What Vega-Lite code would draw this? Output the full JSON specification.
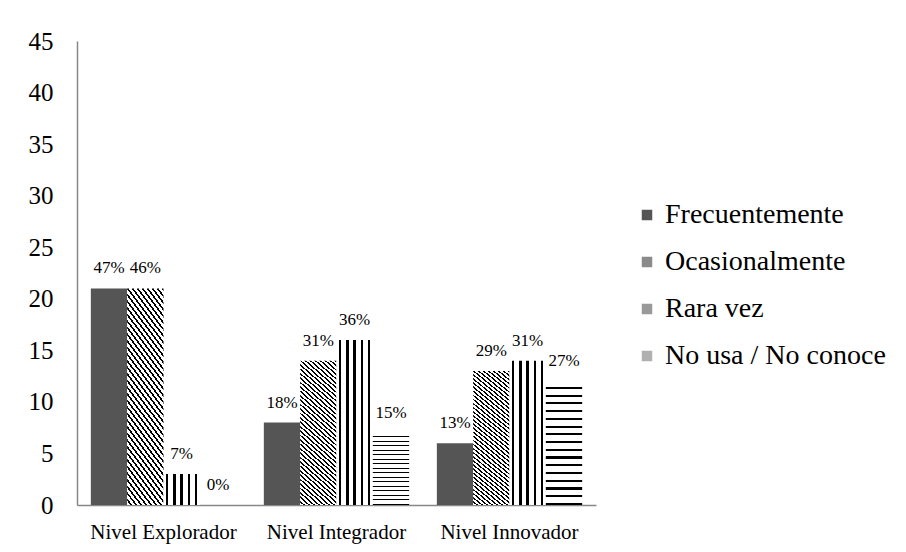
{
  "$schema": "https://vega.github.io/schema/vega-lite/v6.json",
  "autosize": {"type": "none"},
  "padding": {"left": 77, "top": 41, "right": 310, "bottom": 47},
  "width": 519,
  "height": 464,
  "config": {"font": "Liberation Serif", "view": {"stroke": null}, "background": "white", "legend": {"labelFont": "Liberation Serif"}},
  "data": {
    "values": [
      {"nivel": "Nivel Explorador", "serie": "Frecuentemente", "valor": 21, "pct": "47%"},
      {"nivel": "Nivel Explorador", "serie": "Ocasionalmente", "valor": 21, "pct": "46%"},
      {"nivel": "Nivel Explorador", "serie": "Rara vez", "valor": 3, "pct": "7%"},
      {"nivel": "Nivel Explorador", "serie": "No usa / No conoce", "valor": 0, "pct": "0%"},
      {"nivel": "Nivel Integrador", "serie": "Frecuentemente", "valor": 8, "pct": "18%"},
      {"nivel": "Nivel Integrador", "serie": "Ocasionalmente", "valor": 14, "pct": "31%"},
      {"nivel": "Nivel Integrador", "serie": "Rara vez", "valor": 16, "pct": "36%"},
      {"nivel": "Nivel Integrador", "serie": "No usa / No conoce", "valor": 7, "pct": "15%"},
      {"nivel": "Nivel Innovador", "serie": "Frecuentemente", "valor": 6, "pct": "13%"},
      {"nivel": "Nivel Innovador", "serie": "Ocasionalmente", "valor": 13, "pct": "29%"},
      {"nivel": "Nivel Innovador", "serie": "Rara vez", "valor": 14, "pct": "31%"},
      {"nivel": "Nivel Innovador", "serie": "No usa / No conoce", "valor": 12, "pct": "27%"}
    ]
  },
  "encoding": {
    "x": {
      "field": "nivel", "type": "nominal",
      "sort": ["Nivel Explorador", "Nivel Integrador", "Nivel Innovador"],
      "scale": {"paddingInner": 0.16, "paddingOuter": 0.08},
      "axis": {"title": null, "labelAngle": 0, "labelFont": "Liberation Serif", "labelFontSize": 21, "labelColor": "black", "domainColor": "#888888", "domainWidth": 1.5, "ticks": false, "labelPadding": 16}
    },
    "xOffset": {
      "field": "serie", "type": "nominal",
      "sort": ["Frecuentemente", "Ocasionalmente", "Rara vez", "No usa / No conoce"]
    },
    "y": {
      "field": "valor", "type": "quantitative",
      "scale": {"domain": [0, 45]},
      "axis": {"title": null, "values": [0, 5, 10, 15, 20, 25, 30, 35, 40, 45], "grid": false, "ticks": false, "labelFont": "Liberation Serif", "labelFontSize": 25, "labelColor": "black", "labelPadding": 24, "domainColor": "#888888", "domainWidth": 1.5}
    }
  },
  "layer": [
    {
      "mark": {"type": "bar", "strokeWidth": 0},
      "encoding": {
        "fill": {
          "field": "serie", "type": "nominal",
          "scale": {
            "domain": ["Frecuentemente", "Ocasionalmente", "Rara vez", "No usa / No conoce"],
            "range": ["#555555", "#8a8a8a", "#999999", "#b0b0b0"]
          },
          "condition": [
            {"test": "datum.serie === 'Ocasionalmente'", "value": {"gradient": "linear", "x1": 0, "y1": 1, "x2": 0.2588, "y2": -0.1647, "stops": [
                {"offset": 0, "color": "#fff"}, {"offset": 0.015, "color": "#fff"}, {"offset": 0.015, "color": "#000"}, {"offset": 0.025, "color": "#000"},
                {"offset": 0.025, "color": "#fff"}, {"offset": 0.04, "color": "#fff"}, {"offset": 0.04, "color": "#000"}, {"offset": 0.05, "color": "#000"},
                {"offset": 0.05, "color": "#fff"}, {"offset": 0.065, "color": "#fff"}, {"offset": 0.065, "color": "#000"}, {"offset": 0.075, "color": "#000"},
                {"offset": 0.075, "color": "#fff"}, {"offset": 0.09, "color": "#fff"}, {"offset": 0.09, "color": "#000"}, {"offset": 0.1, "color": "#000"},
                {"offset": 0.1, "color": "#fff"}, {"offset": 0.115, "color": "#fff"}, {"offset": 0.115, "color": "#000"}, {"offset": 0.125, "color": "#000"},
                {"offset": 0.125, "color": "#fff"}, {"offset": 0.14, "color": "#fff"}, {"offset": 0.14, "color": "#000"}, {"offset": 0.15, "color": "#000"},
                {"offset": 0.15, "color": "#fff"}, {"offset": 0.165, "color": "#fff"}, {"offset": 0.165, "color": "#000"}, {"offset": 0.175, "color": "#000"},
                {"offset": 0.175, "color": "#fff"}, {"offset": 0.19, "color": "#fff"}, {"offset": 0.19, "color": "#000"}, {"offset": 0.2, "color": "#000"},
                {"offset": 0.2, "color": "#fff"}, {"offset": 0.215, "color": "#fff"}, {"offset": 0.215, "color": "#000"}, {"offset": 0.225, "color": "#000"},
                {"offset": 0.225, "color": "#fff"}, {"offset": 0.24, "color": "#fff"}, {"offset": 0.24, "color": "#000"}, {"offset": 0.25, "color": "#000"},
                {"offset": 0.25, "color": "#fff"}, {"offset": 0.265, "color": "#fff"}, {"offset": 0.265, "color": "#000"}, {"offset": 0.275, "color": "#000"},
                {"offset": 0.275, "color": "#fff"}, {"offset": 0.29, "color": "#fff"}, {"offset": 0.29, "color": "#000"}, {"offset": 0.3, "color": "#000"},
                {"offset": 0.3, "color": "#fff"}, {"offset": 0.315, "color": "#fff"}, {"offset": 0.315, "color": "#000"}, {"offset": 0.325, "color": "#000"},
                {"offset": 0.325, "color": "#fff"}, {"offset": 0.34, "color": "#fff"}, {"offset": 0.34, "color": "#000"}, {"offset": 0.35, "color": "#000"},
                {"offset": 0.35, "color": "#fff"}, {"offset": 0.365, "color": "#fff"}, {"offset": 0.365, "color": "#000"}, {"offset": 0.375, "color": "#000"},
                {"offset": 0.375, "color": "#fff"}, {"offset": 0.39, "color": "#fff"}, {"offset": 0.39, "color": "#000"}, {"offset": 0.4, "color": "#000"},
                {"offset": 0.4, "color": "#fff"}, {"offset": 0.415, "color": "#fff"}, {"offset": 0.415, "color": "#000"}, {"offset": 0.425, "color": "#000"},
                {"offset": 0.425, "color": "#fff"}, {"offset": 0.44, "color": "#fff"}, {"offset": 0.44, "color": "#000"}, {"offset": 0.45, "color": "#000"},
                {"offset": 0.45, "color": "#fff"}, {"offset": 0.465, "color": "#fff"}, {"offset": 0.465, "color": "#000"}, {"offset": 0.475, "color": "#000"},
                {"offset": 0.475, "color": "#fff"}, {"offset": 0.49, "color": "#fff"}, {"offset": 0.49, "color": "#000"}, {"offset": 0.5, "color": "#000"},
                {"offset": 0.5, "color": "#fff"}, {"offset": 0.515, "color": "#fff"}, {"offset": 0.515, "color": "#000"}, {"offset": 0.525, "color": "#000"},
                {"offset": 0.525, "color": "#fff"}, {"offset": 0.54, "color": "#fff"}, {"offset": 0.54, "color": "#000"}, {"offset": 0.55, "color": "#000"},
                {"offset": 0.55, "color": "#fff"}, {"offset": 0.565, "color": "#fff"}, {"offset": 0.565, "color": "#000"}, {"offset": 0.575, "color": "#000"},
                {"offset": 0.575, "color": "#fff"}, {"offset": 0.59, "color": "#fff"}, {"offset": 0.59, "color": "#000"}, {"offset": 0.6, "color": "#000"},
                {"offset": 0.6, "color": "#fff"}, {"offset": 0.615, "color": "#fff"}, {"offset": 0.615, "color": "#000"}, {"offset": 0.625, "color": "#000"},
                {"offset": 0.625, "color": "#fff"}, {"offset": 0.64, "color": "#fff"}, {"offset": 0.64, "color": "#000"}, {"offset": 0.65, "color": "#000"},
                {"offset": 0.65, "color": "#fff"}, {"offset": 0.665, "color": "#fff"}, {"offset": 0.665, "color": "#000"}, {"offset": 0.675, "color": "#000"},
                {"offset": 0.675, "color": "#fff"}, {"offset": 0.69, "color": "#fff"}, {"offset": 0.69, "color": "#000"}, {"offset": 0.7, "color": "#000"},
                {"offset": 0.7, "color": "#fff"}, {"offset": 0.715, "color": "#fff"}, {"offset": 0.715, "color": "#000"}, {"offset": 0.725, "color": "#000"},
                {"offset": 0.725, "color": "#fff"}, {"offset": 0.74, "color": "#fff"}, {"offset": 0.74, "color": "#000"}, {"offset": 0.75, "color": "#000"},
                {"offset": 0.75, "color": "#fff"}, {"offset": 0.765, "color": "#fff"}, {"offset": 0.765, "color": "#000"}, {"offset": 0.775, "color": "#000"},
                {"offset": 0.775, "color": "#fff"}, {"offset": 0.79, "color": "#fff"}, {"offset": 0.79, "color": "#000"}, {"offset": 0.8, "color": "#000"},
                {"offset": 0.8, "color": "#fff"}, {"offset": 0.815, "color": "#fff"}, {"offset": 0.815, "color": "#000"}, {"offset": 0.825, "color": "#000"},
                {"offset": 0.825, "color": "#fff"}, {"offset": 0.84, "color": "#fff"}, {"offset": 0.84, "color": "#000"}, {"offset": 0.85, "color": "#000"},
                {"offset": 0.85, "color": "#fff"}, {"offset": 0.865, "color": "#fff"}, {"offset": 0.865, "color": "#000"}, {"offset": 0.875, "color": "#000"},
                {"offset": 0.875, "color": "#fff"}, {"offset": 0.89, "color": "#fff"}, {"offset": 0.89, "color": "#000"}, {"offset": 0.9, "color": "#000"},
                {"offset": 0.9, "color": "#fff"}, {"offset": 0.915, "color": "#fff"}, {"offset": 0.915, "color": "#000"}, {"offset": 0.925, "color": "#000"},
                {"offset": 0.925, "color": "#fff"}, {"offset": 0.94, "color": "#fff"}, {"offset": 0.94, "color": "#000"}, {"offset": 0.95, "color": "#000"},
                {"offset": 0.95, "color": "#fff"}, {"offset": 0.965, "color": "#fff"}, {"offset": 0.965, "color": "#000"}, {"offset": 0.975, "color": "#000"},
                {"offset": 0.975, "color": "#fff"}, {"offset": 0.99, "color": "#fff"}, {"offset": 0.99, "color": "#000"}, {"offset": 1, "color": "#000"}
              ]}},
            {"test": "datum.serie === 'Rara vez'", "value": {"gradient": "linear", "x1": 0, "y1": 0, "x2": 1, "y2": 0, "stops": [
                {"offset": 0, "color": "#fff"}, {"offset": 0.065, "color": "#fff"}, {"offset": 0.065, "color": "#000"}, {"offset": 0.135, "color": "#000"},
                {"offset": 0.135, "color": "#fff"}, {"offset": 0.265, "color": "#fff"}, {"offset": 0.265, "color": "#000"}, {"offset": 0.335, "color": "#000"},
                {"offset": 0.335, "color": "#fff"}, {"offset": 0.465, "color": "#fff"}, {"offset": 0.465, "color": "#000"}, {"offset": 0.535, "color": "#000"},
                {"offset": 0.535, "color": "#fff"}, {"offset": 0.665, "color": "#fff"}, {"offset": 0.665, "color": "#000"}, {"offset": 0.735, "color": "#000"},
                {"offset": 0.735, "color": "#fff"}, {"offset": 0.865, "color": "#fff"}, {"offset": 0.865, "color": "#000"}, {"offset": 0.935, "color": "#000"},
                {"offset": 0.935, "color": "#fff"}, {"offset": 1, "color": "#fff"}
              ]}},
            {"test": "datum.serie === 'No usa / No conoce'", "value": {"gradient": "linear", "x1": 0, "y1": 0, "x2": 0, "y2": 1, "stops": [
                {"offset": 0, "color": "#fff"}, {"offset": 0.045, "color": "#fff"}, {"offset": 0.045, "color": "#000"}, {"offset": 0.0625, "color": "#000"},
                {"offset": 0.0625, "color": "#fff"}, {"offset": 0.1075, "color": "#fff"}, {"offset": 0.1075, "color": "#000"}, {"offset": 0.125, "color": "#000"},
                {"offset": 0.125, "color": "#fff"}, {"offset": 0.17, "color": "#fff"}, {"offset": 0.17, "color": "#000"}, {"offset": 0.1875, "color": "#000"},
                {"offset": 0.1875, "color": "#fff"}, {"offset": 0.2325, "color": "#fff"}, {"offset": 0.2325, "color": "#000"}, {"offset": 0.25, "color": "#000"},
                {"offset": 0.25, "color": "#fff"}, {"offset": 0.295, "color": "#fff"}, {"offset": 0.295, "color": "#000"}, {"offset": 0.3125, "color": "#000"},
                {"offset": 0.3125, "color": "#fff"}, {"offset": 0.3575, "color": "#fff"}, {"offset": 0.3575, "color": "#000"}, {"offset": 0.375, "color": "#000"},
                {"offset": 0.375, "color": "#fff"}, {"offset": 0.42, "color": "#fff"}, {"offset": 0.42, "color": "#000"}, {"offset": 0.4375, "color": "#000"},
                {"offset": 0.4375, "color": "#fff"}, {"offset": 0.4825, "color": "#fff"}, {"offset": 0.4825, "color": "#000"}, {"offset": 0.5, "color": "#000"},
                {"offset": 0.5, "color": "#fff"}, {"offset": 0.545, "color": "#fff"}, {"offset": 0.545, "color": "#000"}, {"offset": 0.5625, "color": "#000"},
                {"offset": 0.5625, "color": "#fff"}, {"offset": 0.6075, "color": "#fff"}, {"offset": 0.6075, "color": "#000"}, {"offset": 0.625, "color": "#000"},
                {"offset": 0.625, "color": "#fff"}, {"offset": 0.67, "color": "#fff"}, {"offset": 0.67, "color": "#000"}, {"offset": 0.6875, "color": "#000"},
                {"offset": 0.6875, "color": "#fff"}, {"offset": 0.7325, "color": "#fff"}, {"offset": 0.7325, "color": "#000"}, {"offset": 0.75, "color": "#000"},
                {"offset": 0.75, "color": "#fff"}, {"offset": 0.795, "color": "#fff"}, {"offset": 0.795, "color": "#000"}, {"offset": 0.8125, "color": "#000"},
                {"offset": 0.8125, "color": "#fff"}, {"offset": 0.8575, "color": "#fff"}, {"offset": 0.8575, "color": "#000"}, {"offset": 0.875, "color": "#000"},
                {"offset": 0.875, "color": "#fff"}, {"offset": 0.92, "color": "#fff"}, {"offset": 0.92, "color": "#000"}, {"offset": 0.9375, "color": "#000"},
                {"offset": 0.9375, "color": "#fff"}, {"offset": 0.9825, "color": "#fff"}, {"offset": 0.9825, "color": "#000"}, {"offset": 1, "color": "#000"}
              ]}}
          ],
          "legend": {
            "title": null, "orient": "none", "legendX": 556, "legendY": 160,
            "symbolType": "square", "symbolSize": 110, "symbolStrokeWidth": 0,
            "labelFont": "Liberation Serif", "labelFontSize": 28, "labelColor": "black", "labelOffset": 4, "rowPadding": 19, "labelLimit": 300
          }
        }
      }
    },
    {
      "mark": {"type": "text", "baseline": "alphabetic", "dy": -15, "fontSize": 17, "color": "black"},
      "encoding": {"text": {"field": "pct", "type": "nominal"}}
    }
  ]
}
